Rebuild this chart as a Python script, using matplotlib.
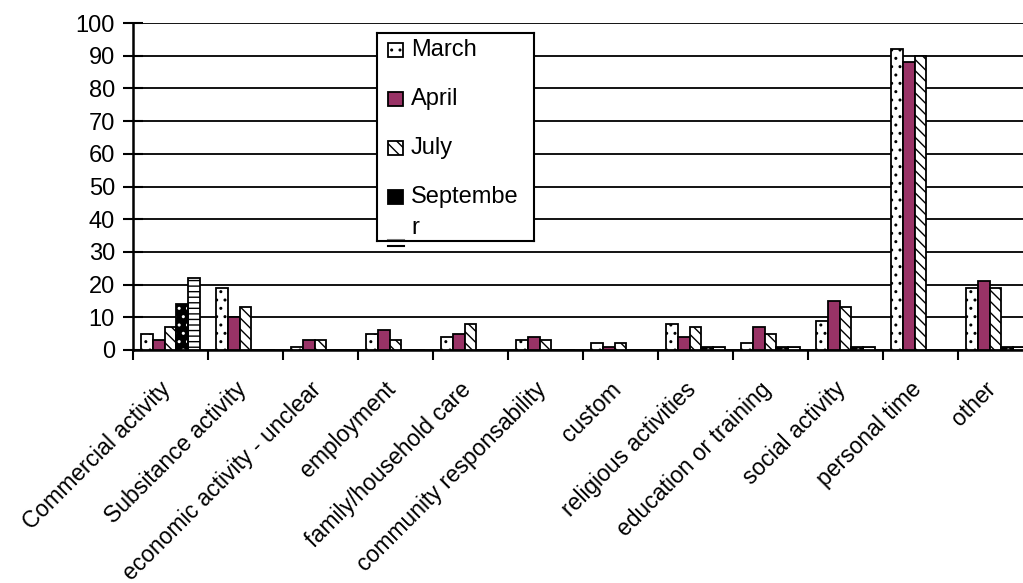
import numpy as np
import matplotlib
matplotlib.use('Agg')
import matplotlib.pyplot as plt
import matplotlib.transforms as mtransforms
from matplotlib.patches import Rectangle

plt.rcParams['font.family'] = ['Liberation Sans', 'DejaVu Sans']
plt.rcParams['hatch.linewidth'] = 1.0

# Activités par catégorie et par mois d'enquête
categories = ['Commercial activity', 'Subsitance activity', 'economic activity - unclear',
              'employment', 'family/household care', 'community responsability', 'custom',
              'religious activities', 'education or training', 'social activity',
              'personal time', 'other']
months = ['March', 'April', 'July', 'September', 'December']

march = [5, 19, 1, 5, 4, 3, 2, 8, 2, 9, 92, 19]
april = [3, 10, 3, 6, 5, 4, 1, 4, 7, 15, 88, 21]
july = [7, 13, 3, 3, 8, 3, 2, 7, 5, 13, 90, 19]
september = [14, 0, 0, 0, 0, 0, 0, 1, 1, 1, 0, 1]
december = [22, 0, 0, 0, 0, 0, 0, 1, 1, 1, 0, 1]

series = [march, april, july, september, december]
maroon = '#993366'

fig = plt.figure(figsize=(10.23, 5.83), dpi=100)
ax = fig.add_axes([133 / 1023, 1 - 350 / 583, 900 / 1023, 327 / 583])

x = np.arange(len(categories))
w = 0.155
offsets = (np.arange(5) - 2) * w + 0.5

styles = [
    dict(color='white', hatch='..'),
    dict(color=maroon, hatch=None),
    dict(color='white', hatch='\\\\\\'),
    dict(color='black', hatch=None),
    dict(color='white', hatch='---'),
]

for vals, off, st in zip(series, offsets, styles):
    vals = np.array(vals, dtype=float)
    if st['color'] == 'black':
        # fond noir avec points blancs, puis contour noir
        ax.bar(x + off, vals, w, color='black', edgecolor='white', hatch='..',
               linewidth=0, zorder=3)
        ax.bar(x + off, vals, w, fill=False, edgecolor='black', linewidth=1.3, zorder=4)
    else:
        ax.bar(x + off, vals, w, color=st['color'], edgecolor='black',
               hatch=st['hatch'], linewidth=1.3, zorder=3)

ax.set_xlim(0, len(categories))
ax.set_ylim(0, 100)
ax.set_yticks(np.arange(0, 101, 10))
ax.yaxis.grid(True, color='black', linewidth=1.3, zorder=0)
ax.set_axisbelow(True)

ax.set_xticks(x + 0.5)
ax.set_xticklabels(categories, rotation=45, ha='right', va='top',
                   rotation_mode='anchor', fontsize=16.5)
ax.set_xticks(np.arange(0, len(categories) + 1), minor=True)
ax.tick_params(axis='x', which='major', length=0, pad=20)
ax.tick_params(axis='x', which='minor', length=7, width=1.5, direction='out')
ax.tick_params(axis='y', labelsize=17, length=14, width=1.5, direction='inout', pad=6)

# décaler les étiquettes obliques un peu vers la gauche
shift = mtransforms.ScaledTranslation(-11 / 100, 0, fig.dpi_scale_trans)
for lbl in ax.get_xticklabels():
    lbl.set_transform(lbl.get_transform() + shift)

for s in ['top', 'right']:
    ax.spines[s].set_visible(False)
for s in ['left', 'bottom']:
    ax.spines[s].set_linewidth(1.8)

# Légende dessinée à la main (boîte tronquée)
lax = fig.add_axes([377 / 1023, 1 - 241 / 583, 157 / 1023, 208 / 583])
lax.set_xlim(0, 157)
lax.set_ylim(208, 0)
lax.set_xticks([])
lax.set_yticks([])
lax.set_facecolor('white')
for s in lax.spines.values():
    s.set_linewidth(1.5)

entry_y = [17, 66, 115, 164]
for yy, st, name in zip(entry_y, styles[:4], ['March', 'April', 'July', 'Septembe']):
    lax.add_patch(Rectangle((11, yy - 7), 15, 14, facecolor=st['color'], edgecolor='black',
                            hatch='.' if st['color'] == 'black' else st['hatch'],
                            linewidth=1.3))
    lax.text(34, yy, name, fontsize=17, va='center', ha='left')
lax.text(34, 195, 'r', fontsize=17, va='center', ha='left')
lax.plot([11, 27], [213, 213], color='black', lw=1.5, clip_on=False)
lax.plot([11, 27], [207, 207], color='gray', lw=1.5, clip_on=False)

fig.savefig('out.png', dpi=100)
